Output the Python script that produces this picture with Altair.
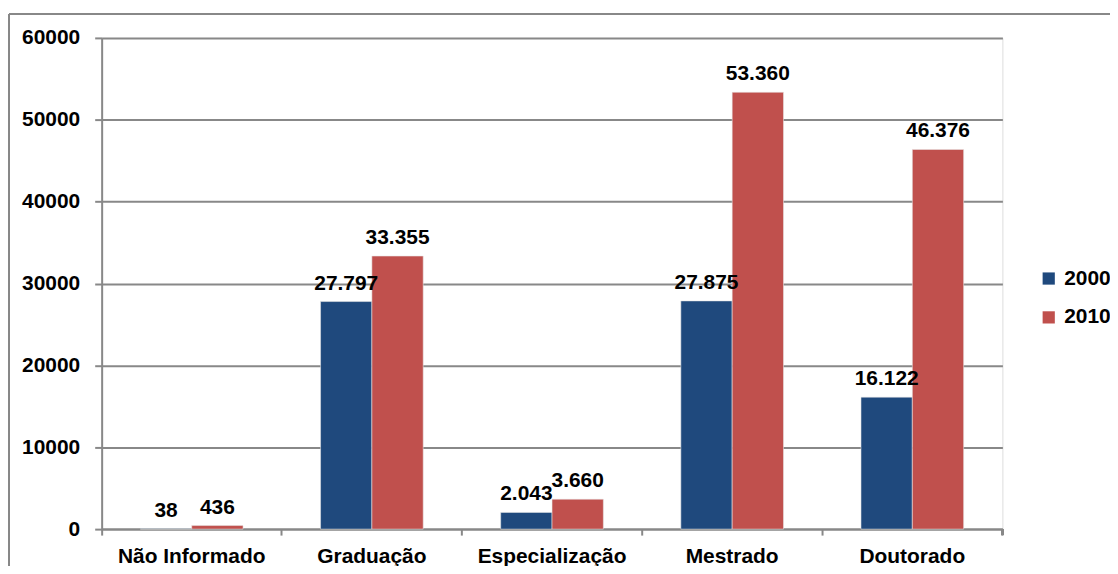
import altair as alt
import pandas as pd

categories = ["Não Informado", "Graduação", "Especialização", "Mestrado", "Doutorado"]
series = ["2000", "2010"]
values_2000 = [38, 27797, 2043, 27875, 16122]
values_2010 = [436, 33355, 3660, 53360, 46376]
colors = ["#1F497D", "#C0504D"]

rows = []
for c, v0, v1 in zip(categories, values_2000, values_2010):
    rows.append({"cat": c, "ano": "2000", "v": v0, "lab": f"{v0:,}".replace(",", ".")})
    rows.append({"cat": c, "ano": "2010", "v": v1, "lab": f"{v1:,}".replace(",", ".")})
df = pd.DataFrame(rows)

FONT = "Liberation Sans"
FS = 21
W, H = 904, 493

x = alt.X("cat:N", sort=categories, title=None,
          scale=alt.Scale(paddingInner=0, paddingOuter=0),
          axis=alt.Axis(bandPosition=0, labelAngle=0, labelFont=FONT, labelFontSize=FS,
                        labelFontWeight="bold", labelColor="black", labelPadding=11,
                        tickSize=6, tickColor="#888888", tickWidth=2,
                        domainColor="#888888", domainWidth=2, grid=False))
xo = alt.XOffset("ano:N", sort=series,
                 scale=alt.Scale(paddingInner=0, paddingOuter=0.755))
y = alt.Y("v:Q", title=None,
          scale=alt.Scale(domain=[0, 60000], nice=False),
          axis=alt.Axis(values=[0, 10000, 20000, 30000, 40000, 50000, 60000], format="d",
                        labelFont=FONT, labelFontSize=FS, labelFontWeight="bold",
                        labelColor="black", labelPadding=15, tickSize=7,
                        tickColor="#888888", tickWidth=2, domainColor="#888888",
                        domainWidth=2, gridColor="#888888", gridWidth=2))

color = alt.Color("ano:N", sort=series, title=None,
                  scale=alt.Scale(domain=series, range=colors),
                  legend=alt.Legend(orient="none", legendX=940, legendY=231,
                                    symbolType="square", symbolSize=150,
                                    symbolStrokeWidth=0, labelFont=FONT,
                                    labelFontSize=FS, labelFontWeight="bold",
                                    labelColor="black", rowPadding=17, labelOffset=5,
                                    labelLimit=200))

bars = alt.Chart(df).mark_bar(stroke="#e8e8e8", strokeWidth=0.8, strokeOpacity=0.7).encode(
    x=x, xOffset=xo, y=y, color=color
)

text = alt.Chart(df).mark_text(font=FONT, fontSize=FS, fontWeight="bold", color="black",
                               baseline="bottom", dy=-8).encode(
    x=alt.X("cat:N", sort=categories), xOffset=xo, y="v:Q", text="lab:N"
)

end_tick = alt.Chart(df).mark_rule(color="#888888", strokeWidth=2).encode(
    x=alt.value(W), y=alt.value(H), y2=alt.value(H + 6)
)
frame_left = alt.Chart(df).mark_rule(color="#888888", strokeWidth=2).encode(
    x=alt.value(-93), y=alt.value(-24), y2=alt.value(H + 60)
)
frame_top = alt.Chart(df).mark_rule(color="#888888", strokeWidth=2).encode(
    x=alt.value(-93), x2=alt.value(W + 120), y=alt.value(-24)
)

chart = alt.layer(bars, text, end_tick, frame_left, frame_top).properties(
    width=W, height=H,
    autosize=alt.AutoSizeParams(type="none"),
    padding={"left": 94, "top": 29, "right": 108, "bottom": 36},
).configure_view(stroke=None).configure(background="white")

chart.save("out.html", embed_options={"renderer": "svg", "actions": False})
